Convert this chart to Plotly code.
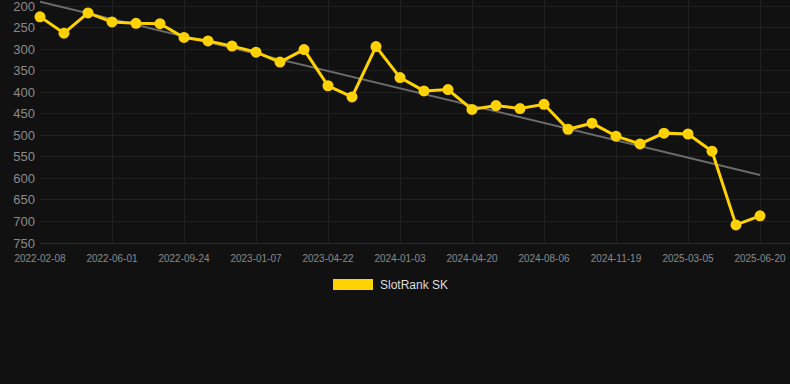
import plotly.graph_objects as go

tick_labels = ["2022-02-08", "2022-06-01", "2022-09-24", "2023-01-07", "2023-04-22",
               "2024-01-03", "2024-04-20", "2024-08-06", "2024-11-19", "2025-03-05", "2025-06-20"]
ranks = [225, 263, 216, 237, 240, 241, 273, 281, 293, 307, 330, 301, 385, 411, 294, 366,
         397, 394, 440, 431, 438, 428, 486, 472, 502, 520, 495, 497, 537, 708, 687]
trend_ends = [190, 592]
series_name = "SlotRank SK"

idx = list(range(len(ranks)))
tick_idx = idx[::3]

fig = go.Figure()
fig.add_trace(go.Scatter(x=[idx[0], idx[-1]], y=trend_ends, mode="lines",
                         line=dict(color="#6b6b6b", width=2), showlegend=False,
                         hoverinfo="skip", cliponaxis=False))
fig.add_trace(go.Scatter(x=idx, y=ranks, mode="lines+markers", name=series_name,
                         line=dict(color="#FFD200", width=3),
                         marker=dict(color="#FFD200", size=11),
                         showlegend=False, cliponaxis=False))

fig.update_layout(
    width=790, height=384,
    margin=dict(l=40, r=0, t=0, b=141),
    paper_bgcolor="#111111", plot_bgcolor="#111111",
    font=dict(family="Liberation Sans, Arial, sans-serif", color="#8a8a8a"),
    xaxis=dict(range=[0, 31.25], tickmode="array", tickvals=tick_idx, ticktext=tick_labels,
               showgrid=True, gridcolor="#202020", gridwidth=1, zeroline=False,
               showline=True, linecolor="#2a2a2a", tickfont=dict(size=10, color="#8a8a8a"),
               ticks="", ticklabelstandoff=6),
    yaxis=dict(range=[750, 186], tickvals=list(range(200, 751, 50)),
               showgrid=True, gridcolor="#202020", gridwidth=1, zeroline=False,
               tickfont=dict(size=13, color="#8a8a8a"), ticks="", ticklabelstandoff=4,
               ticklabeloverflow="allow"),
    showlegend=False,
)

plot_w = 750
plot_h = 243
def px_x(px):
    return (px - 40) / plot_w
def px_y(py):
    return (plot_h - py) / plot_h

fig.add_shape(type="rect", xref="paper", yref="paper",
              x0=px_x(333), x1=px_x(373), y0=px_y(290), y1=px_y(279),
              fillcolor="#FFD200", line=dict(width=0))
fig.add_annotation(xref="paper", yref="paper", x=px_x(378), y=px_y(285),
                   xanchor="left", yanchor="middle", showarrow=False,
                   text=series_name, font=dict(size=12, color="#dddddd"))

fig.write_html("out.html")
